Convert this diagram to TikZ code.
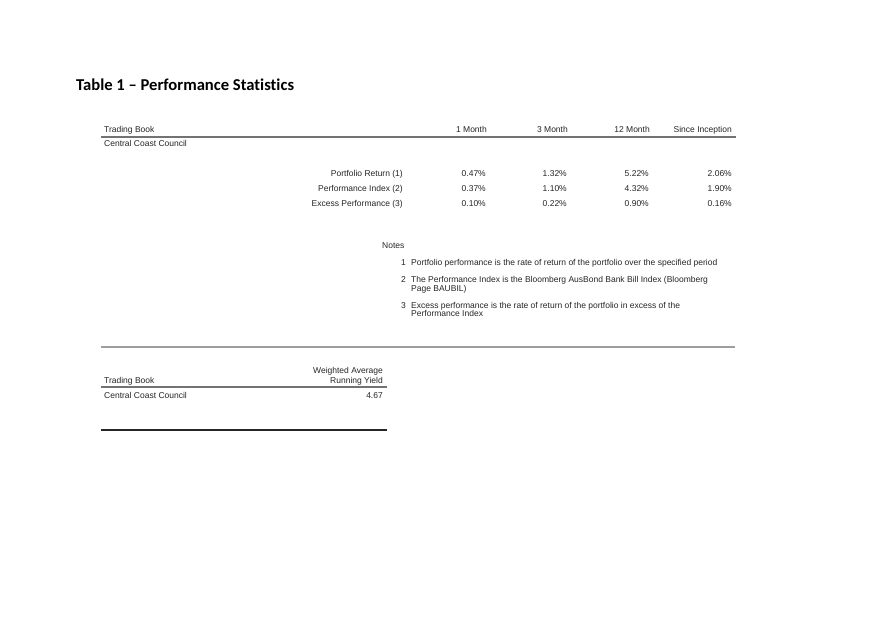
\documentclass[tikz,border=0pt]{standalone}
\usepackage{fontspec}
\setmainfont{Liberation Sans}
\newfontfamily\titlefont[Ligatures=NoCommon]{Carlito}
\begin{document}
\begin{tikzpicture}[x=1pt,y=-1pt,
  txt/.style={inner sep=0pt,font=\fontsize{8.5}{10}\selectfont,text=black!85},
  lt/.style={txt,anchor=base west},
  rt/.style={txt,anchor=base east},
  rule/.style={line width=1.1pt,draw=black!55},
  thickgray/.style={line width=1.6pt,draw=black!38},
  thickblack/.style={line width=1.6pt,draw=black!85}]
\useasboundingbox[fill=white] (0,0) rectangle (873,618);
% title
\node[inner sep=0pt,anchor=base west,font=\titlefont\bfseries\fontsize{16.6}{19}\selectfont] (title) at (76,91) {Table 1 – Performance Statistics};
% table 1 header
\node[lt] (tb1) at (104,132) {Trading Book};
\node[rt] (h1) at (487,132) {1 Month};
\node[rt] (h3) at (568,132) {3 Month};
\node[rt] (h12) at (650,132) {12 Month};
\node[rt] (hs) at (732,132) {Since Inception};
\coordinate (r1a) at (101,137);
\coordinate (r1b) at (736,137);
\draw[rule] (r1a) -- (r1b);
\node[lt] (ccc1) at (104,146) {Central Coast Council};
% rows
\node[rt] (l1) at (403,176) {Portfolio Return (1)};
\node[rt] (l2) at (403,191) {Performance Index (2)};
\node[rt] (l3) at (403,206) {Excess Performance (3)};
\node[rt] (v11) at (486,176) {0.47\%};
\node[rt] (v12) at (567,176) {1.32\%};
\node[rt] (v13) at (649,176) {5.22\%};
\node[rt] (v14) at (732,176) {2.06\%};
\node[rt] (v21) at (486,191) {0.37\%};
\node[rt] (v22) at (567,191) {1.10\%};
\node[rt] (v23) at (649,191) {4.32\%};
\node[rt] (v24) at (732,191) {1.90\%};
\node[rt] (v31) at (486,206) {0.10\%};
\node[rt] (v32) at (567,206) {0.22\%};
\node[rt] (v33) at (649,206) {0.90\%};
\node[rt] (v34) at (732,206) {0.16\%};
% notes
\node[lt] (notes) at (382,248) {Notes};
\node[rt] (n1) at (406,265) {1};
\node[lt] (n1t) at (411,265) {Portfolio performance is the rate of return of the portfolio over the specified period};
\node[rt] (n2) at (406,282) {2};
\node[lt] (n2t) at (411,282) {The Performance Index is the Bloomberg AusBond Bank Bill Index (Bloomberg};
\node[lt] (n2u) at (411,291) {Page BAUBIL)};
\node[rt] (n3) at (406,308) {3};
\node[lt] (n3t) at (411,308) {Excess performance is the rate of return of the portfolio in excess of the};
\node[lt] (n3u) at (411,316) {Performance Index};
\coordinate (g1) at (101,347);
\coordinate (g2) at (735,347);
\draw[thickgray] (g1) -- (g2);
% table 2
\node[rt] (wa) at (383,373) {Weighted Average};
\node[rt] (ry) at (383,383) {Running Yield};
\node[lt] (tb2) at (104,383) {Trading Book};
\coordinate (r2a) at (101,387);
\coordinate (r2b) at (387,387);
\draw[rule] (r2a) -- (r2b);
\node[lt] (ccc2) at (104,398) {Central Coast Council};
\node[rt] (y1) at (383,398) {4.67};
\coordinate (b1) at (101,430);
\coordinate (b2) at (387,430);
\draw[thickblack] (b1) -- (b2);
\end{tikzpicture}
\end{document}
